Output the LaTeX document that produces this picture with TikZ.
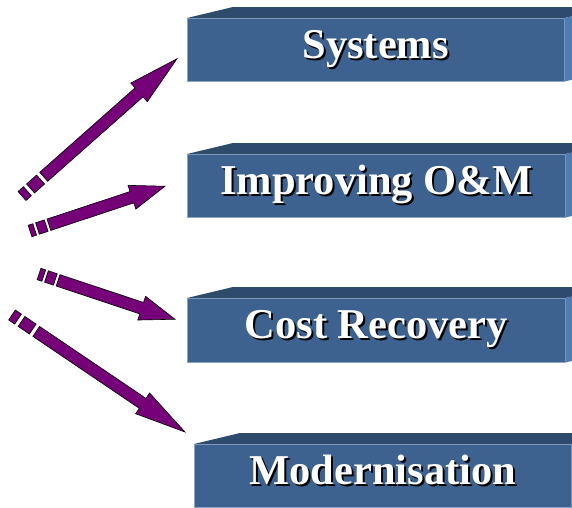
\documentclass[tikz,border=0pt]{standalone}
\usepackage{fontspec}
\setmainfont{Liberation Serif}
\usetikzlibrary{calc}

\definecolor{frontblue}{RGB}{62,98,144}
\definecolor{topblue}{RGB}{46,74,108}
\definecolor{sideblue}{RGB}{80,124,178}
\definecolor{edgeblue}{RGB}{140,165,198}
\definecolor{arrowpurple}{RGB}{118,0,120}

\tikzset{
  slab/.style={rectangle,anchor=north west,fill=frontblue,draw=edgeblue,line width=0.5pt,
    minimum height=63pt,inner sep=0pt,text=white,
    font=\bfseries\fontsize{42.5}{50}\selectfont,text height=29pt,text depth=12pt},
  topface/.style={fill=topblue},
  sideface/.style={fill=sideblue},
  arrowbody/.style={fill=arrowpurple,draw=black,line width=0.6pt,line join=miter}
}

% weisse Schrift mit schwarzem Schatten
\newcommand{\shadowed}[1]{\rlap{\kern2pt\raisebox{-2pt}{\color{black}#1}}#1}

% Ober- und Seitenflaeche eines Kastens
\newcommand{\slabfaces}[1]{%
  \fill[topface] (#1.north west) -- ++(46,-11) -- ($(#1.north east)+(46,-11)$) -- (#1.north east) -- cycle;
  \fill[sideface] (#1.north east) -- ($(#1.north east)+(46,-11)$) -- ($(#1.south east)+(46,-11)$) -- (#1.south east) -- cycle;
}

% Pfeil mit zwei Strichen am Ende, von #1 nach #2
\newcommand{\movearrow}[2]{%
  \path let \p1=($(#2)-(#1)$) in
    \pgfextra{\pgfmathsetmacro{\arrang}{atan2(\y1,\x1)}\pgfmathsetmacro{\arrlen}{veclen(\x1,\y1)}%
      \global\let\arrowangle\arrang \global\let\arrowlength\arrlen};
  \begin{scope}[shift={(#1)},rotate=\arrowangle,x=\arrowlength pt,y=1pt]
    \draw[arrowbody] (0,-6) rectangle (0.035,6);
    \draw[arrowbody] (0.055,-6) rectangle (0.12,6);
    \draw[arrowbody] (0.14,-6) -- (0.755,-6) -- (0.755,-12.5) -- (1,0)
      -- (0.755,12.5) -- (0.755,6) -- (0.14,6) -- cycle;
  \end{scope}
}

\begin{document}
\begin{tikzpicture}[x=1pt,y=-1pt]
  \useasboundingbox (0,0) rectangle (572,507);
  \clip (0,0) rectangle (572,507);
  % Kaesten
  \node[slab,minimum width=377pt] (sys) at (187,18) {\shadowed{Systems}};
  \node[slab,minimum width=378pt] (om) at (187,154) {\shadowed{Improving O\&M}};
  \node[slab,minimum width=378pt,minimum height=64pt] (cost) at (187,298) {\shadowed{Cost Recovery}};
  \node[slab,minimum width=377pt] (mod) at (194,444) {\shadowed{Modernisation}};
  \foreach \n in {sys,om,cost,mod}{
    \slabfaces{\n}
  }
  % Pfeile
  \coordinate (t1) at (22,196);  \coordinate (h1) at ($(sys.west)+(-10,9)$);
  \coordinate (t2) at (30,231);  \coordinate (h2) at ($(om.west)+(-22,0.5)$);
  \coordinate (t3) at (39,274);  \coordinate (h3) at ($(cost.west)+(-12,-11)$);
  \coordinate (t4) at (12,315);  \coordinate (h4) at ($(mod.north west)+(-9,-12)$);
  \foreach \i in {1,...,4}{
    \movearrow{t\i}{h\i}
  }
\end{tikzpicture}
\end{document}
